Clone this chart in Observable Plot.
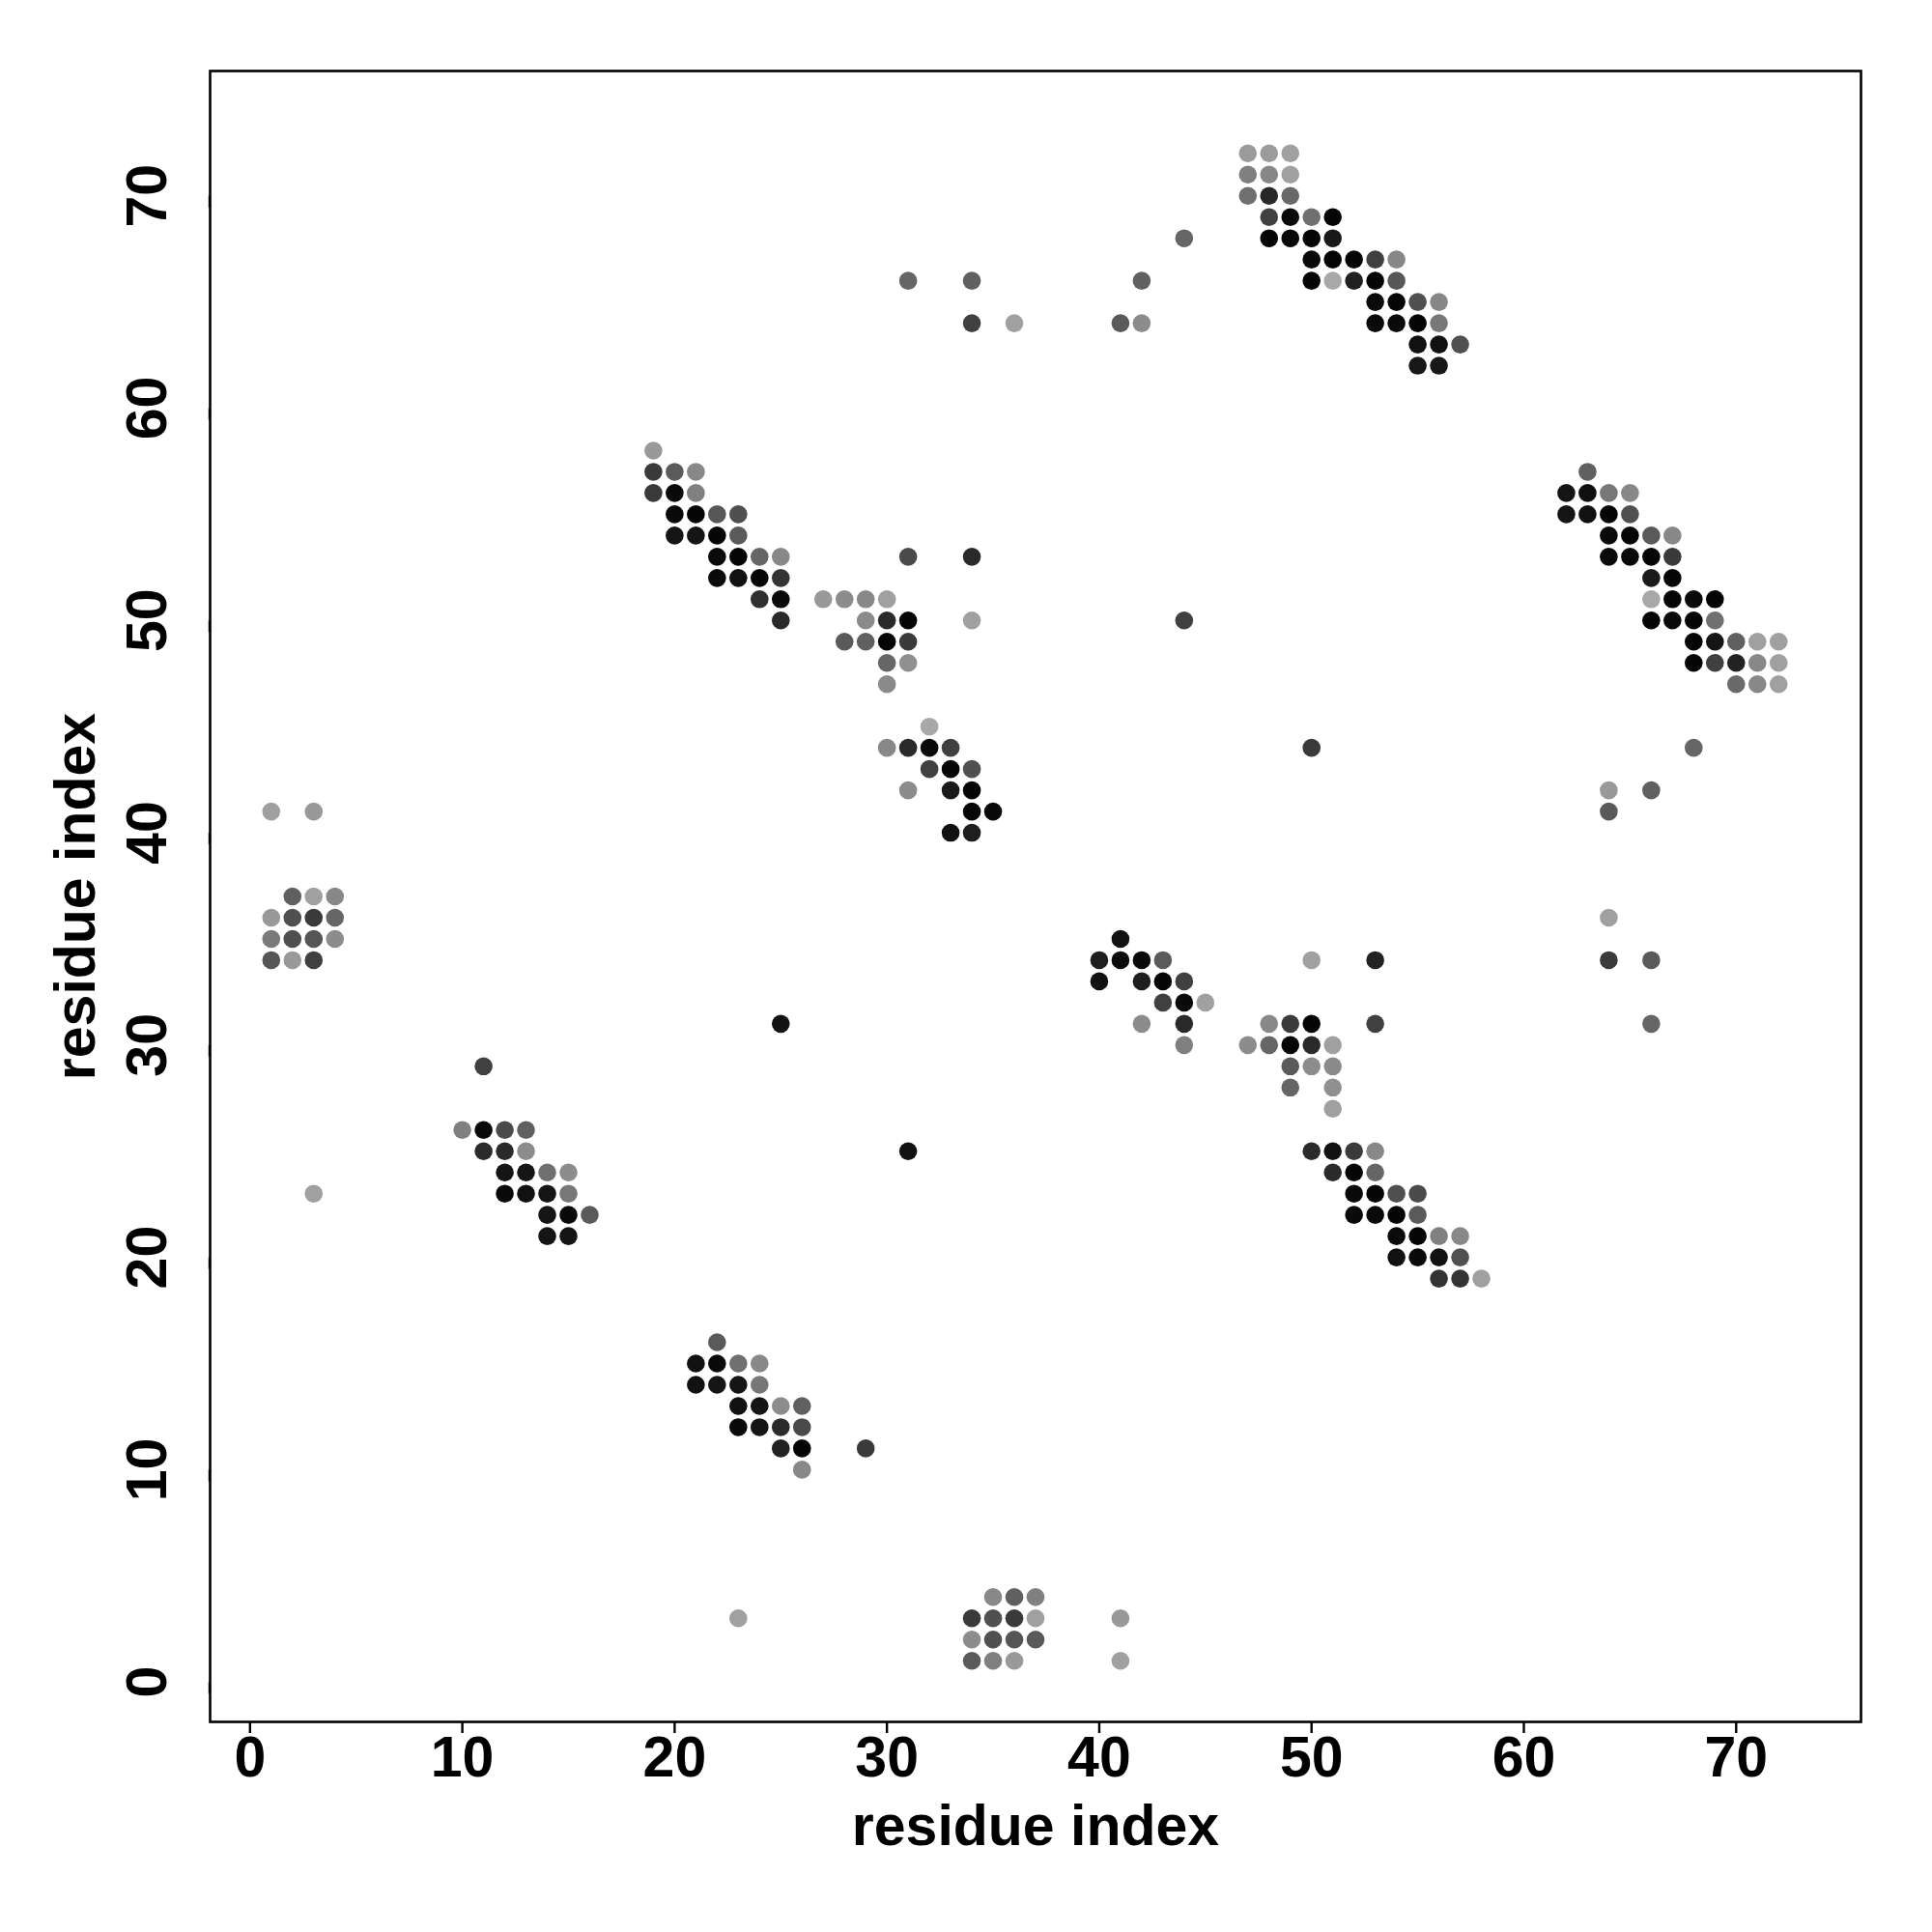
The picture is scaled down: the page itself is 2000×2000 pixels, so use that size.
<!DOCTYPE html>
<html>
<head>
<meta charset="utf-8">
<script src="https://cdn.jsdelivr.net/npm/d3@7"></script>
<script src="https://cdn.jsdelivr.net/npm/@observablehq/plot@0.6"></script>
<style>
html, body { margin: 0; padding: 0; background: #fff; overflow: hidden; }
#chart svg { display: block; }
</style>
</head>
<body>
<div id="chart"></div>
<script>
// Contact map: residue i (x), residue j (y), gray level of the dot (0 = black, 255 = white)
const resI = [
  47,48,49, 47,48,49, 47,48,49, 48,49,50,51, 48,49,50,51, 50,51,52,53,54, 50,51,52,53,54, 53,54,55,56, 53,54,55,56, 55,56,57, 55,56,
  63, 62,63,64,65, 62,63,64,65, 64,65,66,67, 64,65,66,67, 66,67, 66,67,68,69, 66,67,68,69, 68,69,70,71,72, 68,69,70,71,72, 70,71,72,
  19, 19,20,21, 19,20,21, 20,21,22,23, 20,21,22,23, 22,23,24,25, 22,23,24,25, 24,25, 25,
  27,28,29,30, 29,30,31, 28,29,30,31, 30,31, 30, 31,34,34,
  32, 30,31,32,33, 32,33,34, 31,33,34, 34,35, 33,34,
  41, 40,41,42,43, 40,42,43,44, 43,44,45, 42,44, 44,
  48,49,50, 47,48,49,50,51, 49,50,51, 49,51, 51, 53,53,50,
  50,51,52,53, 51,52,53, 52,53,54,55, 52,53,54,55, 54,55,56,57, 54,55,56,57, 56,57,58,
  11, 10,11,12,13, 11,12,13, 12,13,14,15, 12,13,14,15, 14,15,16, 14,15,
  22, 21,22,23,24, 21,22,23,24, 23,24,25,26, 23,24,25,26, 25,26, 26, 29,
  35,36,37, 34,35,36,37, 34,35,36,37, 34,35,36, 41,41,23,
  1,3, 2,3,4, 1,2,3,4, 1,2,3,4, 1,2,3, 3,
  31,34,42,44,34,36,41,42,
  50,44,68,64,66,64,64,64,66,66, 25,31
];
const resJ = [
  72,72,72, 71,71,71, 70,70,70, 69,69,69,69, 68,68,68,68, 67,67,67,67,67, 66,66,66,66,66, 65,65,65,65, 64,64,64,64, 63,63,63, 62,62,
  57, 56,56,56,56, 55,55,55,55, 54,54,54,54, 53,53,53,53, 52,52, 51,51,51,51, 50,50,50,50, 49,49,49,49,49, 48,48,48,48,48, 47,47,47,
  58, 57,57,57, 56,56,56, 55,55,55,55, 54,54,54,54, 53,53,53,53, 52,52,52,52, 51,51, 50,
  51,51,51,51, 50,50,50, 49,49,49,49, 48,48, 47, 53,53,50,
  45, 44,44,44,44, 43,43,43, 42,42,42, 41,41, 40,40,
  35, 34,34,34,34, 33,33,33,33, 32,32,32, 31,31, 30,
  31,31,31, 30,30,30,30,30, 29,29,29, 28,28, 27, 31,34,34,
  25,25,25,25, 24,24,24, 23,23,23,23, 22,22,22,22, 21,21,21,21, 20,20,20,20, 19,19,19,
  29, 26,26,26,26, 25,25,25, 24,24,24,24, 23,23,23,23, 22,22,22, 21,21,
  16, 15,15,15,15, 14,14,14,14, 13,13,13,13, 12,12,12,12, 11,11, 10, 11,
  4,4,4, 3,3,3,3, 2,2,2,2, 1,1,1, 3,1,3,
  41,41, 37,37,37, 36,36,36,36, 35,35,35,35, 34,34,34, 23,
  66,66,66,68,64,64,64,64,
  44,50,44,42,42,41,36,34,34,31, 31,25
];
const shade = [
  155,155,160, 128,135,160, 112,40,104, 64,10,112,5, 5,8,5,24, 10,5,5,64,135, 5,168,32,5,88, 10,5,80,135, 10,10,5,120, 17,17,80, 24,24,
  96, 21,16,120,136, 21,17,5,80, 10,5,90,136, 10,10,5,58, 26,5, 168,5,10,5, 5,10,5,112, 5,21,96,160,160, 5,64,34,136,160, 106,136,160,
  153, 58,90,136, 58,10,128, 10,5,88,80, 21,21,5,90, 10,5,102,136, 10,17,5,51, 48,10, 42,
  153,140,136,160, 138,42,5, 90,96,5,58, 102,144, 138, 74,42,160,
  168, 136,42,10,64, 64,5,80, 140,26,5, 5,10, 17,30,
  17, 30,10,10,90, 17,30,5,64, 64,10,160, 140,42, 128,
  136,58,5, 140,102,5,42,160, 90,140,138, 102,144, 160, 64,34,160,
  42,17,58,136, 42,5,102, 10,5,80,74, 10,10,5,90, 10,5,128,136, 17,10,17,80, 51,51,160,
  64, 128,10,74,96, 42,42,140, 21,21,112,140, 10,17,21,120, 21,10,90, 21,21,
  90, 17,10,112,136, 17,21,21,119, 17,21,140,96, 10,21,42,74, 34,5, 136, 58,
  136,96,128, 58,80,58,160, 140,80,85,90, 90,128,153, 153,160,160,
  160,153, 96,160,136, 153,80,58,102, 122,80,85,140, 85,153,64, 160,
  102,96,96,102,64,160,90,140,
  58,64,102,153,96,90,160,58,90,102, 17,17
];
const tickValues = [0, 10, 20, 30, 40, 50, 60, 70];
const axisTitle = "residue index";

const contacts = resI.map((x, k) => ({x, y: resJ[k], g: shade[k]}));

const font = "'Liberation Sans', Arial, Helvetica, sans-serif";
const fs = 59;
const chart = Plot.plot({
  width: 2000,
  height: 2000,
  marginLeft: 217,
  marginRight: 74,
  marginTop: 73,
  marginBottom: 218,
  style: {fontFamily: font, fontSize: fs + "px", fontWeight: "bold", background: "#fff", color: "#000"},
  x: {domain: [-1.88, 75.88]},
  y: {domain: [-1.88, 75.88]},
  marks: [
    Plot.dot(contacts, {
      x: "x", y: "y", r: 9.3,
      fill: d => d3.rgb(d.g, d.g, d.g).formatHex()
    }),
    Plot.frame({stroke: "#000", strokeWidth: 2.6}),
    Plot.axisX({ticks: tickValues, tickSize: 12, tickPadding: 3, strokeWidth: 2.4, label: null,
      fontSize: fs, fontWeight: "bold"}),
    Plot.axisY({ticks: tickValues, tickSize: 12, tickPadding: 34, strokeWidth: 2.4, label: null,
      rotate: -90, textAnchor: "middle", lineAnchor: "bottom", fontSize: fs, fontWeight: "bold"}),
    Plot.text([axisTitle], {frameAnchor: "bottom", lineAnchor: "bottom", dy: 127,
      fontSize: fs, fontWeight: "bold", fill: "#000"}),
    Plot.text([axisTitle], {frameAnchor: "left", lineAnchor: "bottom", textAnchor: "middle", rotate: -90, dx: -120,
      fontSize: fs, fontWeight: "bold", fill: "#000"})
  ]
});
document.getElementById("chart").appendChild(chart);
</script>
</body>
</html>
